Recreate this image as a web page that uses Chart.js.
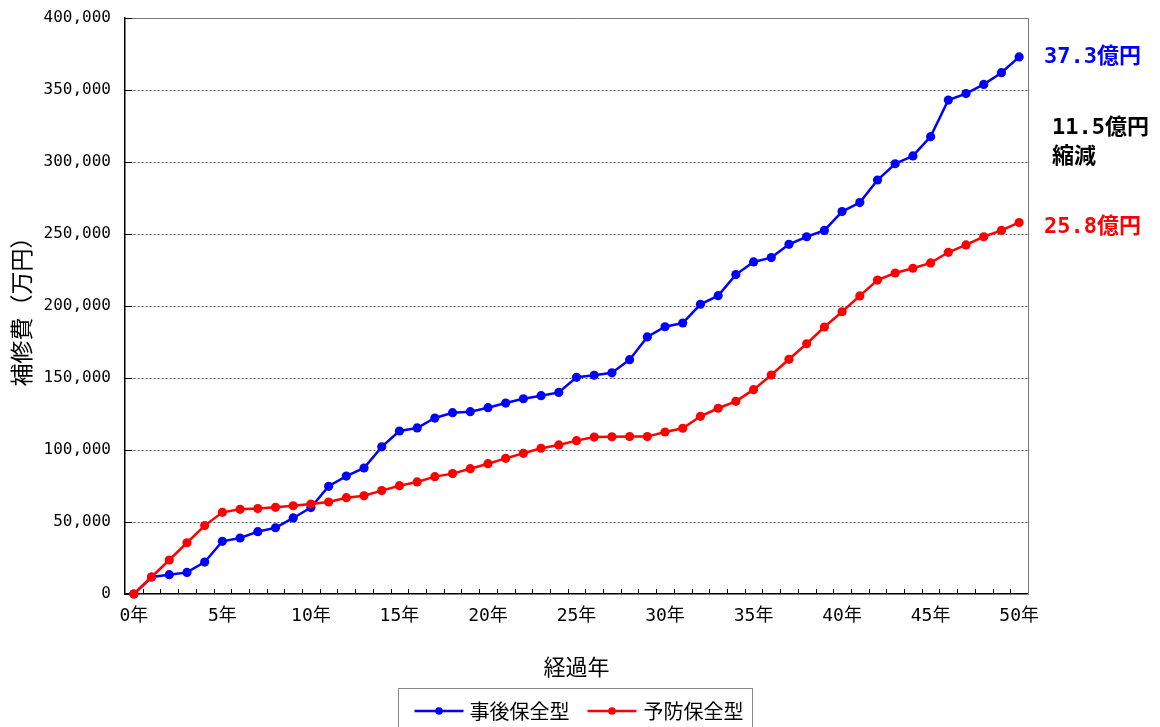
<!DOCTYPE html>
<html>
<head>
<meta charset="utf-8">
<script src="https://cdn.jsdelivr.net/npm/chart.js@4/dist/chart.umd.min.js"></script>
<style>
  html, body { margin: 0; padding: 0; background: #fff; }
  #wrap { width: 1160px; height: 727px; position: relative; }
</style>
</head>
<body>
<div id="wrap"><canvas id="c" width="1160" height="727"></canvas></div>
<script>
// Elapsed years 0..50
const years = Array.from({ length: 51 }, (_, i) => i + '年');

const seriesNames = ['事後保全型', '予防保全型'];

// Cumulative repair cost (万円), corrective maintenance
const correctiveCost = [
  0, 11800, 13400, 15000, 22200, 36600, 38900, 43300, 46000, 52800,
  60000, 74800, 81900, 87500, 102200, 113200, 115300, 122200, 125900, 126600,
  129400, 132600, 135600, 137700, 140000, 150500, 151900, 153600, 162700, 178500,
  185600, 188200, 201200, 207200, 221800, 230600, 233600, 242800, 248100, 252500,
  265600, 271800, 287500, 298800, 304200, 317600, 343000, 347500, 353900, 362000,
  373000
];

// Cumulative repair cost (万円), preventive maintenance
const preventiveCost = [
  0, 11800, 23600, 35600, 47500, 56700, 58800, 59300, 60200, 61300,
  62500, 63900, 66900, 68200, 71800, 75200, 77800, 81500, 83600, 87000,
  90500, 94200, 97700, 101200, 103500, 106500, 109000, 109200, 109300, 109300,
  112500, 115100, 123400, 129000, 133800, 141900, 152100, 163000, 173800, 185400,
  196000, 207000, 218000, 222900, 226200, 229900, 237300, 242400, 248100, 252500,
  258000
];

const yTickValues = [0, 50000, 100000, 150000, 200000, 250000, 300000, 350000, 400000];

const seriesColors = ['#0000FF', '#FF0000'];

const numFont = '"DejaVu Sans Mono", "Noto Sans CJK JP", monospace';
const jpFont = '"Noto Sans CJK JP", sans-serif';

// Plot frame: grey top/right border and inward tick marks on both axes
const framePlugin = {
  id: 'frame',
  beforeDatasetsDraw(chart) {
    const { ctx, chartArea: a, scales } = chart;
    ctx.save();
    ctx.strokeStyle = '#777';
    ctx.lineWidth = 1;
    ctx.beginPath();
    ctx.moveTo(a.left, a.top + 0.5);
    ctx.lineTo(a.right + 0.5, a.top + 0.5);
    ctx.lineTo(a.right + 0.5, a.bottom);
    ctx.stroke();

    ctx.strokeStyle = '#000';
    ctx.beginPath();
    yTickValues.forEach(v => {
      const py = Math.round(scales.y.getPixelForValue(v)) + 0.5;
      ctx.moveTo(a.left, py);
      ctx.lineTo(a.left + 7, py);
    });
    const xs = scales.x;
    for (let i = 0; i < years.length - 1; i++) {
      const px = Math.round((xs.getPixelForValue(i) + xs.getPixelForValue(i + 1)) / 2) + 0.5;
      ctx.moveTo(px, a.bottom);
      ctx.lineTo(px, a.bottom - 5);
    }
    ctx.stroke();
    ctx.restore();
  }
};

// Totals at year 50 and the saving between the two strategies
const totalsPlugin = {
  id: 'totals',
  afterDraw(chart) {
    const { ctx, chartArea: a, scales: { y } } = chart;
    const last = years.length - 1;
    const hi = correctiveCost[last];
    const lo = preventiveCost[last];
    const fmt = v => (v / 10000).toFixed(1) + '億円';
    const pHi = y.getPixelForValue(hi);
    const pLo = y.getPixelForValue(lo) + 5;
    const mid = (pHi + pLo) / 2;
    ctx.save();
    ctx.font = 'bold 22px ' + numFont;
    ctx.textAlign = 'left';
    ctx.textBaseline = 'middle';
    ctx.fillStyle = seriesColors[0];
    ctx.fillText(fmt(hi), a.right + 16, pHi);
    ctx.fillStyle = seriesColors[1];
    ctx.fillText(fmt(lo), a.right + 16, pLo);
    ctx.fillStyle = '#000';
    ctx.fillText(fmt(hi - lo), a.right + 24, mid - 14);
    ctx.fillText('縮減', a.right + 24, mid + 15);
    ctx.restore();
  }
};

// Boxed legend under the axis title
const legendPlugin = {
  id: 'boxLegend',
  afterDraw(chart) {
    const { ctx, chartArea: a } = chart;
    ctx.save();
    ctx.font = '20px ' + jpFont;
    const widths = seriesNames.map(n => ctx.measureText(n).width);
    const lineLen = 49;
    const boxW = 16 + lineLen + 6 + widths[0] + 18 + lineLen + 7 + widths[1] + 9;
    const cx = (a.left + a.right) / 2 - 2;
    const left = Math.round(cx - boxW / 2) + 0.5;
    const top = 688.5;
    ctx.strokeStyle = '#888';
    ctx.lineWidth = 1;
    ctx.strokeRect(left, top, boxW, 60);

    const cy = 711;
    let x = left + 16;
    seriesNames.forEach((name, i) => {
      ctx.strokeStyle = seriesColors[i];
      ctx.fillStyle = seriesColors[i];
      ctx.lineWidth = 2.5;
      ctx.beginPath();
      ctx.moveTo(x, cy);
      ctx.lineTo(x + lineLen, cy);
      ctx.stroke();
      ctx.beginPath();
      ctx.arc(x + lineLen / 2, cy, 3.8, 0, Math.PI * 2);
      ctx.fill();
      x += lineLen + (i === 0 ? 6 : 7);
      ctx.fillStyle = '#000';
      ctx.textAlign = 'left';
      ctx.textBaseline = 'middle';
      ctx.fillText(name, x, cy);
      x += widths[i] + 18;
    });
    ctx.restore();
  }
};

const makeDataset = (i, data, order) => ({
  label: seriesNames[i],
  data: data,
  borderColor: seriesColors[i],
  backgroundColor: seriesColors[i],
  pointBackgroundColor: seriesColors[i],
  pointBorderColor: seriesColors[i],
  pointBorderWidth: 0,
  pointRadius: 4.6,
  borderWidth: 2.5,
  tension: 0,
  clip: false,
  order: order
});

new Chart(document.getElementById('c'), {
  type: 'line',
  data: {
    labels: years,
    datasets: [
      makeDataset(0, correctiveCost, 1),
      makeDataset(1, preventiveCost, 0)
    ]
  },
  options: {
    responsive: false,
    animation: false,
    devicePixelRatio: 1,
    layout: { padding: { left: 0, top: 18, right: 132, bottom: 45 } },
    plugins: {
      legend: { display: false },
      tooltip: { enabled: false }
    },
    scales: {
      x: {
        type: 'category',
        offset: true,
        grid: { display: false, drawTicks: false },
        border: { display: true, color: '#000', width: 1.5 },
        ticks: {
          autoSkip: false,
          maxRotation: 0,
          padding: 12,
          color: '#000',
          font: { family: numFont, size: 18 },
          callback: (v, i) => (i % 5 === 0 ? years[i] : '')
        },
        title: {
          display: true,
          text: '経過年',
          color: '#000',
          font: { family: jpFont, size: 22, lineHeight: 1 },
          padding: { top: 0, bottom: 4 }
        },
        afterFit: s => { s.height = 88; s.paddingLeft = 0; s.paddingRight = 0; }
      },
      y: {
        min: 0,
        max: 400000,
        afterBuildTicks: s => { s.ticks = yTickValues.map(v => ({ value: v })); },
        ticks: {
          padding: 14,
          color: '#000',
          font: { family: numFont, size: 16 },
          callback: v => Number(v).toLocaleString('en-US')
        },
        grid: {
          drawTicks: false,
          lineWidth: 1,
          color: c => (c.tick && c.tick.value > 0 && c.tick.value < 400000) ? '#555' : 'rgba(0,0,0,0)'
        },
        border: { display: true, color: '#000', width: 1.5, dash: [2, 2] },
        title: {
          display: true,
          text: '補修費（万円）',
          color: '#000',
          font: { family: jpFont, size: 23, lineHeight: 1 },
          padding: { top: 10, bottom: 0 }
        },
        afterFit: s => { s.width = 125; s.paddingTop = 0; s.paddingBottom = 0; }
      }
    }
  },
  plugins: [framePlugin, totalsPlugin, legendPlugin]
});
</script>
</body>
</html>
